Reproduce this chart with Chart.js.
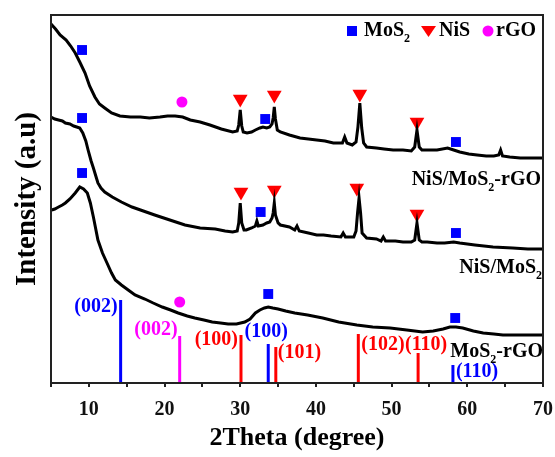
<!DOCTYPE html>
<html>
<head>
<meta charset="utf-8">
<script src="https://cdn.jsdelivr.net/npm/chart.js@4.4.1/dist/chart.umd.min.js"></script>
<style>
html,body{margin:0;padding:0;background:#fff;}
#wrap{width:555px;height:457px;}
</style>
</head>
<body>
<div id="wrap"><canvas id="c" width="555" height="457"></canvas></div>
<script>
// ---------- DATA ----------
const xTicks = [10, 20, 30, 40, 50, 60, 70];

// NiS/MoS2-rGO (top trace)
const topX = [5.0,5.6,6.2,7.0,7.6,8.2,8.8,9.5,10.1,10.8,11.4,12.1,13.0,14.1,15.5,16.8,18.0,19.4,20.4,21.4,22.4,23.4,24.7,26.0,27.5,29.0,29.6,29.8,30.0,30.2,30.4,30.9,31.5,32.0,32.6,33.0,33.5,33.9,34.2,34.35,34.5,34.65,34.9,35.3,36.5,37.9,39.0,40.1,41.2,42.3,43.5,43.8,44.1,44.8,45.3,45.55,45.8,46.05,46.3,46.7,48.0,49.0,50.2,51.5,52.6,53.05,53.35,53.65,54.0,54.7,56.0,57.4,58.2,59.0,60.2,61.3,62.5,63.5,64.15,64.4,64.65,65.6,67.0,68.5,70.0];
const topY = [359,354,348,343,337,330,321,310,297,286,279,275,270,267,266,266,265,266,267,267,266,263,261,258,254,251,252,258,273,257,251,250,251,253,255,256,255,256,259,265,276,264,253,251,248,245,244,243,242,240,240,246,240,238,241,256,280,255,240,236,235,234,233,233,232,236,253,236,233,233,233,235,233,231,229,228,227,227,228,233,227,226,225,225,225];

// NiS/MoS2 (middle trace)
const midX = [5.0,5.5,6.0,6.5,6.9,7.5,8.0,8.4,8.8,9.2,9.6,9.9,10.3,10.6,11.0,11.2,11.6,12.1,13.1,14.3,15.7,17.2,18.7,20.7,22.7,24.7,26.7,28.0,29.0,29.6,29.8,30.0,30.2,30.5,30.8,31.5,32.0,32.2,32.4,33.0,33.5,33.9,34.2,34.35,34.5,34.65,35.0,35.3,36.5,37.2,37.5,37.8,39.0,40.1,41.0,42.0,43.3,43.6,43.9,45.0,45.3,45.5,45.7,45.9,46.1,46.7,48.0,48.6,48.9,49.2,50.5,51.5,52.6,53.05,53.35,53.65,54.0,54.7,56.0,57.0,58.2,59.0,61.0,63.4,66.0,68.0,70.0];
const midY = [266,264,263,262,260,259,257,256,255,250,242,233,222,215,205,200,195,191,186,181,176,172,168,163,158,155,154,152,151,152,160,180,160,153,153,155,157,162,157,158,160,161,165,170,180,168,160,158,156,153,157,152,150,148,148,147,146,150,146,146,152,170,185,170,150,145,144,142,146,142,142,141,141,143,160,143,141,141,140,140,141,140,138,136,135,134,134];

// MoS2-rGO (bottom trace)
const botX = [5.1,5.5,6.0,6.5,6.9,7.5,8.2,8.8,9.3,9.8,10.2,10.6,11.2,11.8,12.4,13.0,13.5,14.3,15.2,16.1,17.4,18.5,19.7,20.8,21.8,23.0,24.0,25.2,26.3,27.4,28.4,29.5,30.6,31.3,32.0,32.6,33.2,33.7,34.3,35.0,36.0,37.2,38.9,40.9,43.0,45.4,47.5,49.8,52.0,54.1,55.5,56.8,57.7,58.5,59.4,60.8,62.1,63.5,64.7,66.5,68.0,70.0];
const botY = [173,174,176,178,180,184,190,196,194,190,180,166,143,130,120,110,103,98,93,88,84,80,76,73,70,67,65,63,61,60,59,59,61,64,70,73,75,76,75,74,72,70,68,65,61,58,56,55,53,51,52,54,56,56,55,52,50,49,48,48,48,48];

// Reference sticks
const stickX = [14.2, 22.0, 30.1, 33.7, 34.7, 45.6, 53.5, 58.1];
const stickH = [83, 47, 48, 39, 36, 49, 30, 18];
const stickLabels = ['(002)', '(002)', '(100)', '(100)', '(101)', '(102)', '(110)', '(110)'];
const stickPhase = ['MoS2', 'rGO', 'NiS', 'MoS2', 'NiS', 'NiS', 'NiS', 'MoS2'];

// Phase markers
const mosX = [9.1, 33.3, 58.5, 9.1, 32.7, 58.5, 9.1, 33.7, 58.4];
const mosY = [333, 264, 241, 265, 171, 150, 210, 89, 65];
const nisX = [30.0, 34.5, 45.8, 53.35, 30.1, 34.5, 45.4, 53.35];
const nisY = [284, 288, 289, 261, 191, 193, 195, 169];
const rgoX = [22.3, 22.0];
const rgoY = [281, 81];

// ---------- STYLE ----------
const FONT = '"Liberation Serif", "Times New Roman", serif';
const phaseColor = { MoS2: '#0000ff', NiS: '#ff0000', rGO: '#ff00ff' };
// label placement relative to stick top (pixels)
const stickLabelPlace = [
  {dx: -3, dy: 12, align: 'right'},
  {dx: -2, dy: -1, align: 'right'},
  {dx: -3, dy: 10, align: 'right'},
  {dx: -2, dy: -7, align: 'center'},
  {dx: 2, dy: 11, align: 'left'},
  {dx: 3, dy: 16, align: 'left'},
  {dx: 8, dy: -3, align: 'center'},
  {dx: 3, dy: 12, align: 'left'}
];

function pts(xs, ys) { return xs.map((x, i) => ({x: x, y: ys[i]})); }

const datasets = [];
[[topX, topY], [midX, midY], [botX, botY]].forEach(([xs, ys]) => {
  datasets.push({data: pts(xs, ys), borderColor: '#000', borderWidth: 3, pointRadius: 0, tension: 0, fill: false});
});
stickX.forEach((x, i) => {
  datasets.push({data: [{x: x, y: 0}, {x: x, y: stickH[i]}], borderColor: phaseColor[stickPhase[i]], borderWidth: 3, pointRadius: 0, borderCapStyle: 'butt'});
});
datasets.push({data: pts(mosX, mosY), showLine: false, pointStyle: 'rect', pointRadius: 7, backgroundColor: '#0000ff', borderColor: '#0000ff', borderWidth: 0});
datasets.push({data: pts(nisX, nisY), showLine: false, pointStyle: 'triangle', pointRotation: 180, pointRadius: 8.5, backgroundColor: '#ff0000', borderColor: '#ff0000', borderWidth: 0});
datasets.push({data: pts(rgoX, rgoY), showLine: false, pointStyle: 'circle', pointRadius: 5.5, backgroundColor: '#ff00ff', borderColor: '#ff00ff', borderWidth: 0});

function drawRich(ctx, parts, x, y, align, size) {
  const big = 'bold ' + size + 'px ' + FONT;
  const small = 'bold ' + Math.round(size * 0.62) + 'px ' + FONT;
  let w = 0;
  parts.forEach(p => { ctx.font = p.sub ? small : big; w += ctx.measureText(p.t).width; });
  let cx = align === 'right' ? x - w : (align === 'center' ? x - w / 2 : x);
  ctx.textAlign = 'left';
  ctx.textBaseline = 'alphabetic';
  parts.forEach(p => {
    ctx.font = p.sub ? small : big;
    ctx.fillText(p.t, cx, p.sub ? y + 6 : y);
    cx += ctx.measureText(p.t).width;
  });
}

const annot = {
  id: 'annot',
  afterDraw(chart) {
    const ctx = chart.ctx, a = chart.chartArea;
    const xs = chart.scales.x, ys = chart.scales.y;
    ctx.save();
    // frame
    ctx.strokeStyle = '#222';
    ctx.lineWidth = 2;
    ctx.strokeRect(a.left, a.top, a.right - a.left, a.bottom - a.top);
    // stick labels
    stickX.forEach((x, i) => {
      const px = xs.getPixelForValue(x), py = ys.getPixelForValue(stickH[i]);
      const p = stickLabelPlace[i];
      ctx.fillStyle = phaseColor[stickPhase[i]];
      drawRich(ctx, [{t: stickLabels[i]}], px + p.dx, py + p.dy, p.align, 20);
    });
    // series labels
    ctx.fillStyle = '#000';
    drawRich(ctx, [{t: 'NiS/MoS'}, {t: '2', sub: true}, {t: '-rGO'}], a.right - 2, ys.getPixelForValue(198), 'right', 20);
    drawRich(ctx, [{t: 'NiS/MoS'}, {t: '2', sub: true}], a.right - 1, ys.getPixelForValue(110), 'right', 20);
    drawRich(ctx, [{t: 'MoS'}, {t: '2', sub: true}, {t: '-rGO'}], a.right, ys.getPixelForValue(26), 'right', 20);
    // legend
    const ly = a.top + 16;
    ctx.fillStyle = '#0000ff';
    ctx.fillRect(347, ly - 5, 10, 10);
    ctx.fillStyle = '#000';
    drawRich(ctx, [{t: 'MoS'}, {t: '2', sub: true}], 364, ly + 5, 'left', 20);
    ctx.fillStyle = '#ff0000';
    ctx.beginPath();
    ctx.moveTo(421, ly - 5); ctx.lineTo(436, ly - 5); ctx.lineTo(428.5, ly + 6); ctx.closePath(); ctx.fill();
    ctx.fillStyle = '#000';
    drawRich(ctx, [{t: 'NiS'}], 439, ly + 5, 'left', 20);
    ctx.fillStyle = '#ff00ff';
    ctx.beginPath(); ctx.arc(488, ly, 5.5, 0, Math.PI * 2); ctx.fill();
    ctx.fillStyle = '#000';
    drawRich(ctx, [{t: 'rGO'}], 496, ly + 5, 'left', 20);
    ctx.restore();
  }
};

new Chart(document.getElementById('c'), {
  type: 'line',
  data: {datasets: datasets},
  plugins: [annot],
  options: {
    responsive: false,
    animation: false,
    devicePixelRatio: 1,
    layout: {padding: {top: 15, right: 12, left: 0, bottom: 0}},
    plugins: {legend: {display: false}, tooltip: {enabled: false}},
    elements: {line: {tension: 0}},
    scales: {
      x: {
        type: 'linear', min: 5, max: 70,
        afterFit(s) { s.height = 74; },
        afterBuildTicks(s) { s.ticks = []; for (let v = 5; v <= 70; v += 5) s.ticks.push({value: v}); },
        ticks: {
          autoSkip: false, maxRotation: 0, color: '#111', padding: 0,
          font: {family: FONT, size: 20, weight: 'bold', lineHeight: 2.25},
          callback: (v) => xTicks.includes(v) ? String(v) : ''
        },
        grid: {display: true, drawOnChartArea: false, drawTicks: true, tickLength: 4, color: '#222', lineWidth: 2},
        border: {display: false},
        title: {display: true, text: '2Theta (degree)', color: '#000', font: {family: FONT, size: 26, weight: 'bold'}, padding: {top: 0, bottom: 3}}
      },
      y: {
        type: 'linear', min: 0, max: 368,
        afterFit(s) { s.width = 51; },
        ticks: {display: false},
        grid: {display: false},
        border: {display: false},
        title: {display: true, text: 'Intensity (a.u)', color: '#000', font: {family: FONT, size: 29, weight: 'bold'}, padding: {top: 10, bottom: 0}}
      }
    }
  }
});
</script>
</body>
</html>
